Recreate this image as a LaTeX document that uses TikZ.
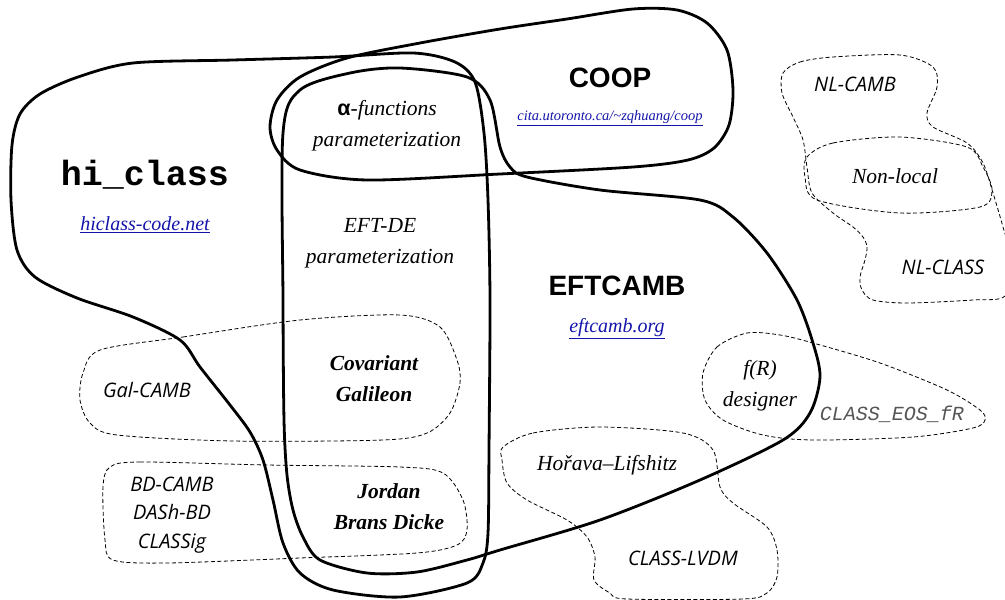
\documentclass[tikz,border=0pt]{standalone}
\usepackage{fontspec}
\setmainfont{Liberation Serif}
\newfontfamily\osans{Open Sans}
\newfontfamily\arialf{Liberation Sans}
\newfontfamily\monof{Liberation Mono}
\definecolor{linkblue}{RGB}{20,20,170}
\definecolor{eosgray}{RGB}{85,85,85}
\newcommand{\setfs}[2]{\fontsize{#1}{#2}\selectfont}
\tikzset{
  solidblob/.style={line width=2.8pt, line join=round},
  dashblob/.style={line width=0.8pt, dash pattern=on 4pt off 2.5pt},
  callab/.style={font=\setfs{21.5}{31}\itshape, align=center, inner sep=0pt},
  calbold/.style={font=\setfs{21.5}{31}\itshape\bfseries, align=center, inner sep=0pt},
  sanslab/.style={font=\osans\setfs{20}{28.5}\itshape, align=center, inner sep=0pt},
  biglab/.style={font=\arialf\bfseries\setfs{28}{30}, inner sep=0pt},
  urllab/.style={font=\setfs{20}{22}\itshape, text=linkblue, inner sep=0pt},
}
\begin{document}
\begin{tikzpicture}[x=1pt,y=-1pt]
\useasboundingbox (0,0) rectangle (1005,600);
\clip (0,0) rectangle (1005,600);
% hi_class
\draw[solidblob] plot[smooth cycle] coordinates {(133,63) (233,60) (333,57) (413,53) (455,62) (475,82) (484,133) (488,200) (490,300) (489,450) (488,533) (483,563) (467,583) (400,597) (333,590) (300,573) (283,543) (273,500) (263,460) (250,432) (230,405) (200,367) (180,340) (133,317) (77,298) (35,277) (17,250) (11,200) (12,145) (20,114) (40,94) (78,77)};
% COOP
\draw[solidblob] plot[smooth cycle] coordinates {(500,29) (567,19) (633,9) (677,10) (707,23) (727,50) (733,90) (729,125) (714,148) (688,160) (633,167) (500,174) (367,180) (300,170) (277,150) (270,127) (277,100) (300,77) (347,58) (420,43)};
% EFTCAMB
\draw[solidblob] plot[smooth cycle] coordinates {(283,133) (283,300) (284,420) (287,475) (293,510) (303,537) (320,560) (367,573) (417,572) (467,560) (500,550) (600,520) (700,480) (783,440) (810,413) (820,377) (813,343) (797,300) (767,253) (733,217) (700,200) (600,190) (527,177) (510,167) (500,147) (490,100) (467,77) (400,68) (350,73) (300,90)};
% dashed blobs
\draw[dashblob] plot[smooth cycle] coordinates {(100,350) (183,337) (300,320) (400,315) (440,327) (457,360) (460,383) (450,413) (427,433) (383,440) (233,441) (117,435) (90,423) (80,400) (83,373)};
\draw[dashblob] plot[smooth cycle] coordinates {(110,467) (140,462) (267,465) (400,467) (443,473) (463,500) (467,530) (457,545) (417,553) (300,558) (167,563) (113,560) (105,540) (103,487)};
\draw[dashblob] plot[smooth cycle] coordinates {(783,73) (800,62) (833,57) (900,55) (933,67) (937,87) (927,113) (933,127) (967,143) (983,163) (993,193) (1003,227) (1012,262) (1005,296) (973,300) (907,303) (873,300) (862,290) (860,277) (865,260) (867,247) (863,237) (853,227) (833,213) (812,193) (807,167) (803,140) (793,117) (782,93)};
\draw[dashblob] plot[smooth cycle] coordinates {(807,157) (833,143) (900,137) (967,147) (983,167) (992,190) (980,207) (900,213) (817,200) (805,177)};
\draw[dashblob] plot[smooth cycle] coordinates {(703,373) (717,347) (747,333) (780,335) (813,343) (880,363) (947,390) (980,410) (985,420) (973,428) (913,437) (813,440) (763,435) (723,420) (705,400)};
\draw[dashblob] plot[smooth cycle] coordinates {(503,447) (533,433) (600,427) (683,433) (713,450) (720,487) (733,503) (767,527) (777,550) (777,577) (767,593) (743,599) (627,599) (610,593) (594,580) (595,557) (587,537) (567,520) (527,500) (507,483) (502,460)};
% labels
\node[font=\monof\bfseries\setfs{35}{36}, inner sep=0pt] (hic) at (145,175) {hi\_class};
\node[urllab] (hicurl) at (145,225) {\underline{hiclass-code.net}};
\node[biglab] (coop) at (610,78) {COOP};
\node[urllab, font=\setfs{14.5}{16}\itshape] (coopurl) at (610,118) {\underline{cita.utoronto.ca/\char"7E zqhuang/coop}};
\node[biglab] (eft) at (617,286) {EFTCAMB};
\node[urllab] (efturl) at (617,329) {\underline{eftcamb.org}};
\node[callab] (alpha) at (387,126) {{\arialf\bfseries\upshape α}-functions\\parameterization};
\node[callab] (eftde) at (380,243) {EFT-DE\\parameterization};
\node[calbold] (covgal) at (374,379) {Covariant\\Galileon};
\node[calbold] (jbd) at (389,507) {Jordan\\Brans Dicke};
\node[callab] (fr) at (760,386) {f(R)\\designer};
\node[callab] (hl) at (607,465) {Hořava–Lifshitz};
\node[callab] (nonloc) at (895,176) {Non-local};
\node[sanslab] (galcamb) at (147,390) {Gal-CAMB};
\node[sanslab] (bd) at (172,515) {BD-CAMB\\DASh-BD\\CLASSig};
\node[sanslab] (nlcamb) at (855,84) {NL-CAMB};
\node[sanslab] (nlclass) at (943,267) {NL-CLASS};
\node[sanslab] (lvdm) at (683,558) {CLASS-LVDM};
\node[font=\monof\itshape\setfs{20}{22}, text=eosgray, inner sep=0pt] (eos) at (892,414) {CLASS\_EOS\_fR};
\end{tikzpicture}
\end{document}
